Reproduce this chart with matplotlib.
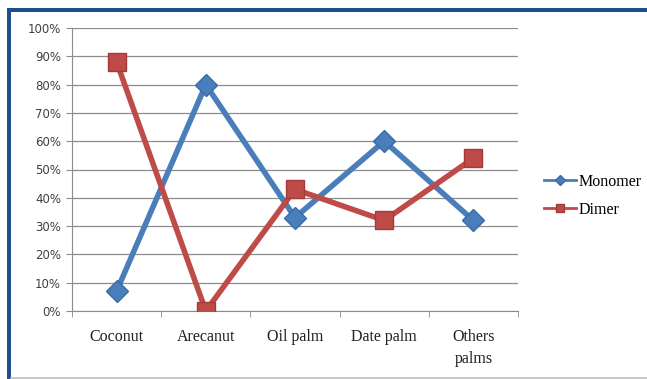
import numpy as np
import matplotlib
matplotlib.use('Agg')
import matplotlib.pyplot as plt
from matplotlib.patches import Rectangle
from matplotlib.lines import Line2D

# chart data
categories = ['Coconut', 'Arecanut', 'Oil palm', 'Date palm', 'Others\npalms']
monomer = [7, 80, 33, 60, 32]
dimer = [88, 0, 43, 32, 54]
y_ticks = np.arange(0, 101, 10)

blue = '#4A7EBB'
red = '#BE4B48'

fig = plt.figure(figsize=(6.47, 3.79), dpi=100)
fig.patch.set_facecolor('white')

# outer frame: dark blue on top and left, thin grey at the bottom
fig.add_artist(Rectangle((7 / 647, 0), 4 / 647, 1 - 8 / 379, transform=fig.transFigure,
                         color='#1F4E8C', lw=0))
fig.add_artist(Rectangle((7 / 647, 1 - 12 / 379), 1, 4 / 379, transform=fig.transFigure,
                         color='#1F4E8C', lw=0))
fig.add_artist(Line2D([11 / 647, 1], [1.5 / 379, 1.5 / 379], transform=fig.transFigure,
                      color='#C0C0C0', lw=1.2))

ax = fig.add_axes([72 / 647, 1 - 311 / 379, 446 / 647, 283 / 379])
x = np.arange(len(categories))

ax.plot(x, monomer, color=blue, lw=4, marker='D', markersize=11,
        markerfacecolor=blue, markeredgecolor='#3A6BA8', zorder=3)
ax.plot(x, dimer, color=red, lw=4, marker='s', markersize=13,
        markerfacecolor=red, markeredgecolor='#A33B38', zorder=4)

ax.set_xlim(-0.5, len(categories) - 0.5)
ax.set_ylim(0, 100)
ax.set_yticks(y_ticks)
ax.set_yticklabels([f'{v}%' for v in y_ticks], fontsize=8.5, color='#404040',
                   family='DejaVu Sans')
ax.yaxis.grid(True, color='#8C8C8C', lw=0.9)
ax.set_axisbelow(True)

ax.set_xticks(x)
ax.set_xticklabels(categories, fontsize=11.5, family='Liberation Serif', color='#202020',
                   linespacing=1.5)
ax.set_xticks(np.arange(-0.5, len(categories)), minor=True)
ax.tick_params(axis='x', which='major', length=0, pad=13)
ax.tick_params(axis='x', which='minor', length=4, color='#8C8C8C')
ax.tick_params(axis='y', length=4, color='#8C8C8C', pad=4)

for side in ['top', 'right']:
    ax.spines[side].set_visible(False)
ax.spines['left'].set_color('#8C8C8C')
ax.spines['bottom'].set_color('#8C8C8C')

# legend with the small Excel-style keys
handles = [
    Line2D([], [], color=blue, lw=2, marker='D', markersize=5, markeredgecolor='#3A6BA8'),
    Line2D([], [], color=red, lw=2, marker='s', markersize=6, markeredgecolor='#A33B38'),
]
fig.legend(handles, ['Monomer', 'Dimer'], loc='center left',
           bbox_to_anchor=(530 / 647, 1 - 196 / 379),
           frameon=False, prop={'family': 'Liberation Serif', 'size': 11.5},
           handlelength=2.0, handletextpad=0.15, labelspacing=0.75)

fig.savefig('out.png', dpi=100)
